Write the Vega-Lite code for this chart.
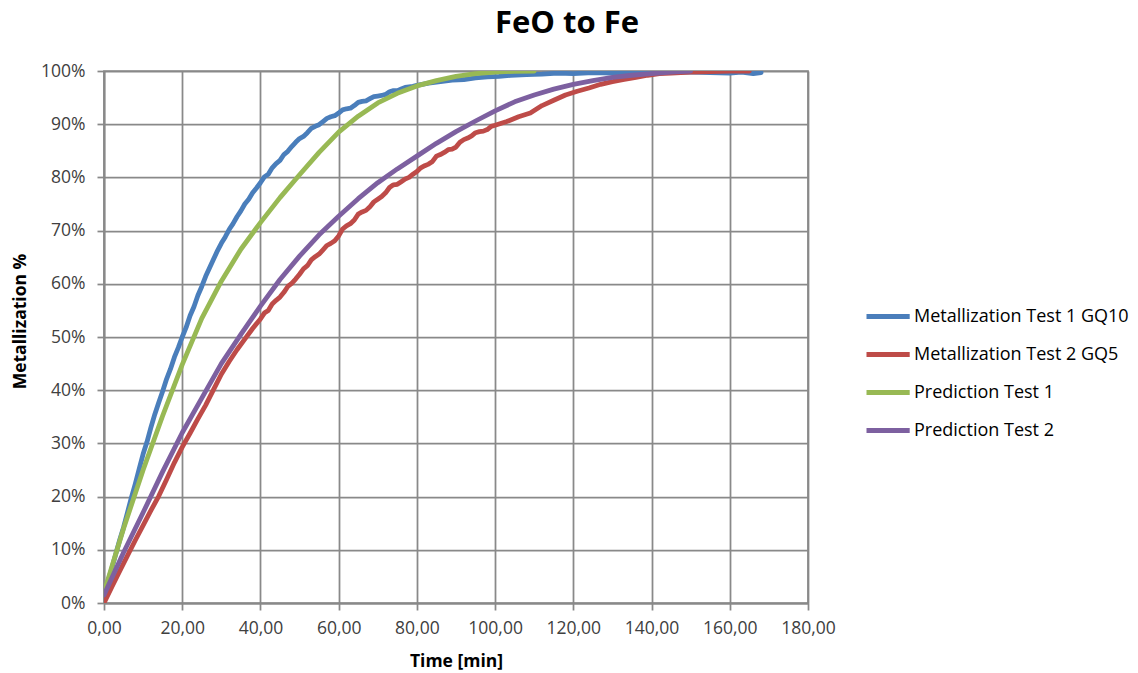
{
  "$schema": "https://vega.github.io/schema/vega-lite/v6.json",
  "autosize": "none",
  "width": 704,
  "height": 532,
  "padding": {"left": 104, "top": 71, "right": 330, "bottom": 70},
  "background": "white",
  "title": {
    "text": "FeO to Fe",
    "font": "Open Sans",
    "fontSize": 31,
    "fontWeight": "bold",
    "color": "#000000",
    "anchor": "middle",
    "frame": "group",
    "dx": 111,
    "offset": 22
  },
  "config": {
    "view": {"stroke": "#898989", "strokeWidth": 1.75},
    "font": "Open Sans"
  },
  "datasets": {
    "series": [
      {"s": "Metallization Test 1 GQ10", "t": 0, "v": 0.012},
      {"s": "Metallization Test 1 GQ10", "t": 1, "v": 0.04},
      {"s": "Metallization Test 1 GQ10", "t": 2, "v": 0.065},
      {"s": "Metallization Test 1 GQ10", "t": 3, "v": 0.092},
      {"s": "Metallization Test 1 GQ10", "t": 4, "v": 0.118},
      {"s": "Metallization Test 1 GQ10", "t": 5, "v": 0.142},
      {"s": "Metallization Test 1 GQ10", "t": 6, "v": 0.17},
      {"s": "Metallization Test 1 GQ10", "t": 7, "v": 0.198},
      {"s": "Metallization Test 1 GQ10", "t": 8, "v": 0.224},
      {"s": "Metallization Test 1 GQ10", "t": 9, "v": 0.252},
      {"s": "Metallization Test 1 GQ10", "t": 10, "v": 0.28},
      {"s": "Metallization Test 1 GQ10", "t": 11, "v": 0.303},
      {"s": "Metallization Test 1 GQ10", "t": 12, "v": 0.33},
      {"s": "Metallization Test 1 GQ10", "t": 13, "v": 0.355},
      {"s": "Metallization Test 1 GQ10", "t": 14, "v": 0.377},
      {"s": "Metallization Test 1 GQ10", "t": 15, "v": 0.398},
      {"s": "Metallization Test 1 GQ10", "t": 16, "v": 0.421},
      {"s": "Metallization Test 1 GQ10", "t": 17, "v": 0.44},
      {"s": "Metallization Test 1 GQ10", "t": 18, "v": 0.462},
      {"s": "Metallization Test 1 GQ10", "t": 19, "v": 0.48},
      {"s": "Metallization Test 1 GQ10", "t": 20, "v": 0.5},
      {"s": "Metallization Test 1 GQ10", "t": 21, "v": 0.518},
      {"s": "Metallization Test 1 GQ10", "t": 22, "v": 0.54},
      {"s": "Metallization Test 1 GQ10", "t": 23, "v": 0.557},
      {"s": "Metallization Test 1 GQ10", "t": 24, "v": 0.578},
      {"s": "Metallization Test 1 GQ10", "t": 25, "v": 0.595},
      {"s": "Metallization Test 1 GQ10", "t": 26, "v": 0.614},
      {"s": "Metallization Test 1 GQ10", "t": 27, "v": 0.63},
      {"s": "Metallization Test 1 GQ10", "t": 28, "v": 0.646},
      {"s": "Metallization Test 1 GQ10", "t": 29, "v": 0.662},
      {"s": "Metallization Test 1 GQ10", "t": 30, "v": 0.676},
      {"s": "Metallization Test 1 GQ10", "t": 31, "v": 0.688},
      {"s": "Metallization Test 1 GQ10", "t": 32, "v": 0.702},
      {"s": "Metallization Test 1 GQ10", "t": 33, "v": 0.713},
      {"s": "Metallization Test 1 GQ10", "t": 34, "v": 0.726},
      {"s": "Metallization Test 1 GQ10", "t": 35, "v": 0.737},
      {"s": "Metallization Test 1 GQ10", "t": 36, "v": 0.75},
      {"s": "Metallization Test 1 GQ10", "t": 37, "v": 0.759},
      {"s": "Metallization Test 1 GQ10", "t": 38, "v": 0.771},
      {"s": "Metallization Test 1 GQ10", "t": 39, "v": 0.78},
      {"s": "Metallization Test 1 GQ10", "t": 40, "v": 0.79},
      {"s": "Metallization Test 1 GQ10", "t": 41, "v": 0.801},
      {"s": "Metallization Test 1 GQ10", "t": 42, "v": 0.806},
      {"s": "Metallization Test 1 GQ10", "t": 43, "v": 0.818},
      {"s": "Metallization Test 1 GQ10", "t": 44, "v": 0.826},
      {"s": "Metallization Test 1 GQ10", "t": 45, "v": 0.832},
      {"s": "Metallization Test 1 GQ10", "t": 46, "v": 0.843},
      {"s": "Metallization Test 1 GQ10", "t": 47, "v": 0.849},
      {"s": "Metallization Test 1 GQ10", "t": 48, "v": 0.858},
      {"s": "Metallization Test 1 GQ10", "t": 49, "v": 0.866},
      {"s": "Metallization Test 1 GQ10", "t": 50, "v": 0.873},
      {"s": "Metallization Test 1 GQ10", "t": 51, "v": 0.877},
      {"s": "Metallization Test 1 GQ10", "t": 52, "v": 0.884},
      {"s": "Metallization Test 1 GQ10", "t": 53, "v": 0.892},
      {"s": "Metallization Test 1 GQ10", "t": 54, "v": 0.896},
      {"s": "Metallization Test 1 GQ10", "t": 55, "v": 0.899},
      {"s": "Metallization Test 1 GQ10", "t": 56, "v": 0.905},
      {"s": "Metallization Test 1 GQ10", "t": 57, "v": 0.911},
      {"s": "Metallization Test 1 GQ10", "t": 58, "v": 0.914},
      {"s": "Metallization Test 1 GQ10", "t": 59, "v": 0.916},
      {"s": "Metallization Test 1 GQ10", "t": 60, "v": 0.921},
      {"s": "Metallization Test 1 GQ10", "t": 61, "v": 0.927},
      {"s": "Metallization Test 1 GQ10", "t": 62, "v": 0.929},
      {"s": "Metallization Test 1 GQ10", "t": 63, "v": 0.93},
      {"s": "Metallization Test 1 GQ10", "t": 64, "v": 0.935},
      {"s": "Metallization Test 1 GQ10", "t": 65, "v": 0.941},
      {"s": "Metallization Test 1 GQ10", "t": 66, "v": 0.943},
      {"s": "Metallization Test 1 GQ10", "t": 67, "v": 0.944},
      {"s": "Metallization Test 1 GQ10", "t": 68, "v": 0.948},
      {"s": "Metallization Test 1 GQ10", "t": 69, "v": 0.952},
      {"s": "Metallization Test 1 GQ10", "t": 70, "v": 0.953},
      {"s": "Metallization Test 1 GQ10", "t": 71, "v": 0.954},
      {"s": "Metallization Test 1 GQ10", "t": 72, "v": 0.956},
      {"s": "Metallization Test 1 GQ10", "t": 73, "v": 0.961},
      {"s": "Metallization Test 1 GQ10", "t": 74, "v": 0.963},
      {"s": "Metallization Test 1 GQ10", "t": 75, "v": 0.963},
      {"s": "Metallization Test 1 GQ10", "t": 76, "v": 0.966},
      {"s": "Metallization Test 1 GQ10", "t": 77, "v": 0.969},
      {"s": "Metallization Test 1 GQ10", "t": 78, "v": 0.97},
      {"s": "Metallization Test 1 GQ10", "t": 79, "v": 0.971},
      {"s": "Metallization Test 1 GQ10", "t": 80, "v": 0.973},
      {"s": "Metallization Test 1 GQ10", "t": 83, "v": 0.977},
      {"s": "Metallization Test 1 GQ10", "t": 86, "v": 0.98},
      {"s": "Metallization Test 1 GQ10", "t": 89, "v": 0.983},
      {"s": "Metallization Test 1 GQ10", "t": 92, "v": 0.984},
      {"s": "Metallization Test 1 GQ10", "t": 95, "v": 0.987},
      {"s": "Metallization Test 1 GQ10", "t": 98, "v": 0.989},
      {"s": "Metallization Test 1 GQ10", "t": 101, "v": 0.99},
      {"s": "Metallization Test 1 GQ10", "t": 104, "v": 0.992},
      {"s": "Metallization Test 1 GQ10", "t": 108, "v": 0.993},
      {"s": "Metallization Test 1 GQ10", "t": 112, "v": 0.994},
      {"s": "Metallization Test 1 GQ10", "t": 116, "v": 0.996},
      {"s": "Metallization Test 1 GQ10", "t": 120, "v": 0.995},
      {"s": "Metallization Test 1 GQ10", "t": 125, "v": 0.997},
      {"s": "Metallization Test 1 GQ10", "t": 130, "v": 0.996},
      {"s": "Metallization Test 1 GQ10", "t": 135, "v": 0.998},
      {"s": "Metallization Test 1 GQ10", "t": 140, "v": 0.997},
      {"s": "Metallization Test 1 GQ10", "t": 145, "v": 0.998},
      {"s": "Metallization Test 1 GQ10", "t": 150, "v": 0.998},
      {"s": "Metallization Test 1 GQ10", "t": 155, "v": 0.997},
      {"s": "Metallization Test 1 GQ10", "t": 160, "v": 0.996},
      {"s": "Metallization Test 1 GQ10", "t": 163, "v": 0.998},
      {"s": "Metallization Test 1 GQ10", "t": 166, "v": 0.995},
      {"s": "Metallization Test 1 GQ10", "t": 168, "v": 0.997},

      {"s": "Metallization Test 2 GQ5", "t": 0, "v": 0.0},
      {"s": "Metallization Test 2 GQ5", "t": 2, "v": 0.03},
      {"s": "Metallization Test 2 GQ5", "t": 4, "v": 0.06},
      {"s": "Metallization Test 2 GQ5", "t": 6, "v": 0.089},
      {"s": "Metallization Test 2 GQ5", "t": 8, "v": 0.118},
      {"s": "Metallization Test 2 GQ5", "t": 10, "v": 0.146},
      {"s": "Metallization Test 2 GQ5", "t": 12, "v": 0.174},
      {"s": "Metallization Test 2 GQ5", "t": 14, "v": 0.201},
      {"s": "Metallization Test 2 GQ5", "t": 16, "v": 0.232},
      {"s": "Metallization Test 2 GQ5", "t": 18, "v": 0.264},
      {"s": "Metallization Test 2 GQ5", "t": 20, "v": 0.293},
      {"s": "Metallization Test 2 GQ5", "t": 22, "v": 0.319},
      {"s": "Metallization Test 2 GQ5", "t": 24, "v": 0.346},
      {"s": "Metallization Test 2 GQ5", "t": 26, "v": 0.372},
      {"s": "Metallization Test 2 GQ5", "t": 28, "v": 0.401},
      {"s": "Metallization Test 2 GQ5", "t": 30, "v": 0.43},
      {"s": "Metallization Test 2 GQ5", "t": 32, "v": 0.454},
      {"s": "Metallization Test 2 GQ5", "t": 34, "v": 0.476},
      {"s": "Metallization Test 2 GQ5", "t": 36, "v": 0.496},
      {"s": "Metallization Test 2 GQ5", "t": 38, "v": 0.516},
      {"s": "Metallization Test 2 GQ5", "t": 40, "v": 0.534},
      {"s": "Metallization Test 2 GQ5", "t": 41, "v": 0.545},
      {"s": "Metallization Test 2 GQ5", "t": 42, "v": 0.55},
      {"s": "Metallization Test 2 GQ5", "t": 43, "v": 0.562},
      {"s": "Metallization Test 2 GQ5", "t": 44, "v": 0.569},
      {"s": "Metallization Test 2 GQ5", "t": 45, "v": 0.575},
      {"s": "Metallization Test 2 GQ5", "t": 46, "v": 0.584},
      {"s": "Metallization Test 2 GQ5", "t": 47, "v": 0.595},
      {"s": "Metallization Test 2 GQ5", "t": 48, "v": 0.601},
      {"s": "Metallization Test 2 GQ5", "t": 49, "v": 0.609},
      {"s": "Metallization Test 2 GQ5", "t": 50, "v": 0.618},
      {"s": "Metallization Test 2 GQ5", "t": 51, "v": 0.628},
      {"s": "Metallization Test 2 GQ5", "t": 52, "v": 0.634},
      {"s": "Metallization Test 2 GQ5", "t": 53, "v": 0.645},
      {"s": "Metallization Test 2 GQ5", "t": 54, "v": 0.651},
      {"s": "Metallization Test 2 GQ5", "t": 55, "v": 0.656},
      {"s": "Metallization Test 2 GQ5", "t": 56, "v": 0.664},
      {"s": "Metallization Test 2 GQ5", "t": 57, "v": 0.672},
      {"s": "Metallization Test 2 GQ5", "t": 58, "v": 0.676},
      {"s": "Metallization Test 2 GQ5", "t": 59, "v": 0.681},
      {"s": "Metallization Test 2 GQ5", "t": 60, "v": 0.69},
      {"s": "Metallization Test 2 GQ5", "t": 61, "v": 0.703},
      {"s": "Metallization Test 2 GQ5", "t": 62, "v": 0.709},
      {"s": "Metallization Test 2 GQ5", "t": 63, "v": 0.713},
      {"s": "Metallization Test 2 GQ5", "t": 64, "v": 0.72},
      {"s": "Metallization Test 2 GQ5", "t": 65, "v": 0.731},
      {"s": "Metallization Test 2 GQ5", "t": 66, "v": 0.735},
      {"s": "Metallization Test 2 GQ5", "t": 67, "v": 0.738},
      {"s": "Metallization Test 2 GQ5", "t": 68, "v": 0.745},
      {"s": "Metallization Test 2 GQ5", "t": 69, "v": 0.754},
      {"s": "Metallization Test 2 GQ5", "t": 70, "v": 0.759},
      {"s": "Metallization Test 2 GQ5", "t": 71, "v": 0.764},
      {"s": "Metallization Test 2 GQ5", "t": 72, "v": 0.771},
      {"s": "Metallization Test 2 GQ5", "t": 73, "v": 0.781},
      {"s": "Metallization Test 2 GQ5", "t": 74, "v": 0.786},
      {"s": "Metallization Test 2 GQ5", "t": 75, "v": 0.787},
      {"s": "Metallization Test 2 GQ5", "t": 76, "v": 0.792},
      {"s": "Metallization Test 2 GQ5", "t": 77, "v": 0.797},
      {"s": "Metallization Test 2 GQ5", "t": 78, "v": 0.8},
      {"s": "Metallization Test 2 GQ5", "t": 79, "v": 0.806},
      {"s": "Metallization Test 2 GQ5", "t": 80, "v": 0.811},
      {"s": "Metallization Test 2 GQ5", "t": 81, "v": 0.818},
      {"s": "Metallization Test 2 GQ5", "t": 82, "v": 0.822},
      {"s": "Metallization Test 2 GQ5", "t": 83, "v": 0.825},
      {"s": "Metallization Test 2 GQ5", "t": 84, "v": 0.83},
      {"s": "Metallization Test 2 GQ5", "t": 85, "v": 0.84},
      {"s": "Metallization Test 2 GQ5", "t": 86, "v": 0.843},
      {"s": "Metallization Test 2 GQ5", "t": 87, "v": 0.847},
      {"s": "Metallization Test 2 GQ5", "t": 88, "v": 0.852},
      {"s": "Metallization Test 2 GQ5", "t": 89, "v": 0.853},
      {"s": "Metallization Test 2 GQ5", "t": 90, "v": 0.857},
      {"s": "Metallization Test 2 GQ5", "t": 91, "v": 0.866},
      {"s": "Metallization Test 2 GQ5", "t": 92, "v": 0.871},
      {"s": "Metallization Test 2 GQ5", "t": 93, "v": 0.874},
      {"s": "Metallization Test 2 GQ5", "t": 94, "v": 0.878},
      {"s": "Metallization Test 2 GQ5", "t": 95, "v": 0.884},
      {"s": "Metallization Test 2 GQ5", "t": 96, "v": 0.886},
      {"s": "Metallization Test 2 GQ5", "t": 97, "v": 0.887},
      {"s": "Metallization Test 2 GQ5", "t": 98, "v": 0.89},
      {"s": "Metallization Test 2 GQ5", "t": 99, "v": 0.896},
      {"s": "Metallization Test 2 GQ5", "t": 100, "v": 0.898},
      {"s": "Metallization Test 2 GQ5", "t": 103, "v": 0.905},
      {"s": "Metallization Test 2 GQ5", "t": 106, "v": 0.914},
      {"s": "Metallization Test 2 GQ5", "t": 109, "v": 0.921},
      {"s": "Metallization Test 2 GQ5", "t": 112, "v": 0.935},
      {"s": "Metallization Test 2 GQ5", "t": 115, "v": 0.945},
      {"s": "Metallization Test 2 GQ5", "t": 118, "v": 0.955},
      {"s": "Metallization Test 2 GQ5", "t": 121, "v": 0.962},
      {"s": "Metallization Test 2 GQ5", "t": 124, "v": 0.968},
      {"s": "Metallization Test 2 GQ5", "t": 127, "v": 0.975},
      {"s": "Metallization Test 2 GQ5", "t": 130, "v": 0.98},
      {"s": "Metallization Test 2 GQ5", "t": 133, "v": 0.984},
      {"s": "Metallization Test 2 GQ5", "t": 136, "v": 0.988},
      {"s": "Metallization Test 2 GQ5", "t": 139, "v": 0.992},
      {"s": "Metallization Test 2 GQ5", "t": 142, "v": 0.995},
      {"s": "Metallization Test 2 GQ5", "t": 145, "v": 0.996},
      {"s": "Metallization Test 2 GQ5", "t": 150, "v": 0.998},
      {"s": "Metallization Test 2 GQ5", "t": 155, "v": 0.999},
      {"s": "Metallization Test 2 GQ5", "t": 160, "v": 1.0},
      {"s": "Metallization Test 2 GQ5", "t": 165, "v": 1.0},

      {"s": "Prediction Test 1", "t": 0, "v": 0.02},
      {"s": "Prediction Test 1", "t": 5, "v": 0.14},
      {"s": "Prediction Test 1", "t": 10, "v": 0.25},
      {"s": "Prediction Test 1", "t": 15, "v": 0.352},
      {"s": "Prediction Test 1", "t": 20, "v": 0.448},
      {"s": "Prediction Test 1", "t": 25, "v": 0.535},
      {"s": "Prediction Test 1", "t": 30, "v": 0.605},
      {"s": "Prediction Test 1", "t": 35, "v": 0.665},
      {"s": "Prediction Test 1", "t": 40, "v": 0.715},
      {"s": "Prediction Test 1", "t": 45, "v": 0.762},
      {"s": "Prediction Test 1", "t": 50, "v": 0.805},
      {"s": "Prediction Test 1", "t": 55, "v": 0.847},
      {"s": "Prediction Test 1", "t": 60, "v": 0.885},
      {"s": "Prediction Test 1", "t": 65, "v": 0.915},
      {"s": "Prediction Test 1", "t": 70, "v": 0.94},
      {"s": "Prediction Test 1", "t": 75, "v": 0.958},
      {"s": "Prediction Test 1", "t": 80, "v": 0.972},
      {"s": "Prediction Test 1", "t": 85, "v": 0.982},
      {"s": "Prediction Test 1", "t": 90, "v": 0.99},
      {"s": "Prediction Test 1", "t": 95, "v": 0.995},
      {"s": "Prediction Test 1", "t": 100, "v": 0.998},
      {"s": "Prediction Test 1", "t": 105, "v": 0.9995},
      {"s": "Prediction Test 1", "t": 110, "v": 1.0},

      {"s": "Prediction Test 2", "t": 0, "v": 0.015},
      {"s": "Prediction Test 2", "t": 5, "v": 0.095},
      {"s": "Prediction Test 2", "t": 10, "v": 0.17},
      {"s": "Prediction Test 2", "t": 15, "v": 0.247},
      {"s": "Prediction Test 2", "t": 20, "v": 0.32},
      {"s": "Prediction Test 2", "t": 25, "v": 0.385},
      {"s": "Prediction Test 2", "t": 30, "v": 0.45},
      {"s": "Prediction Test 2", "t": 35, "v": 0.505},
      {"s": "Prediction Test 2", "t": 40, "v": 0.558},
      {"s": "Prediction Test 2", "t": 45, "v": 0.608},
      {"s": "Prediction Test 2", "t": 50, "v": 0.652},
      {"s": "Prediction Test 2", "t": 55, "v": 0.692},
      {"s": "Prediction Test 2", "t": 60, "v": 0.727},
      {"s": "Prediction Test 2", "t": 65, "v": 0.76},
      {"s": "Prediction Test 2", "t": 70, "v": 0.79},
      {"s": "Prediction Test 2", "t": 75, "v": 0.816},
      {"s": "Prediction Test 2", "t": 80, "v": 0.84},
      {"s": "Prediction Test 2", "t": 85, "v": 0.864},
      {"s": "Prediction Test 2", "t": 90, "v": 0.886},
      {"s": "Prediction Test 2", "t": 95, "v": 0.906},
      {"s": "Prediction Test 2", "t": 100, "v": 0.925},
      {"s": "Prediction Test 2", "t": 105, "v": 0.942},
      {"s": "Prediction Test 2", "t": 110, "v": 0.955},
      {"s": "Prediction Test 2", "t": 115, "v": 0.966},
      {"s": "Prediction Test 2", "t": 120, "v": 0.975},
      {"s": "Prediction Test 2", "t": 125, "v": 0.982},
      {"s": "Prediction Test 2", "t": 130, "v": 0.988},
      {"s": "Prediction Test 2", "t": 135, "v": 0.992},
      {"s": "Prediction Test 2", "t": 140, "v": 0.995},
      {"s": "Prediction Test 2", "t": 145, "v": 0.998},
      {"s": "Prediction Test 2", "t": 150, "v": 1.0}
    ]
  },
  "data": {"name": "series"},
  "mark": {"type": "line", "strokeCap": "round", "strokeJoin": "round", "clip": true},
  "encoding": {
    "x": {
      "field": "t",
      "type": "quantitative",
      "scale": {"domain": [0, 180], "nice": false, "zero": true},
      "axis": {
        "title": "Time [min]",
        "values": [0, 20, 40, 60, 80, 100, 120, 140, 160, 180],
        "labelExpr": "replace(format(datum.value, '.2f'), '.', ',')",
        "grid": true,
        "gridColor": "#898989",
        "gridWidth": 1.75,
        "gridOpacity": 1,
        "domainColor": "#898989",
        "domainWidth": 1.75,
        "tickColor": "#898989",
        "tickWidth": 1.75,
        "tickSize": 7,
        "labelPadding": 9,
        "labelFont": "Open Sans",
        "labelFontSize": 17.5,
        "labelColor": "#404040",
        "labelFlush": false,
        "titleFont": "Open Sans",
        "titleFontSize": 17.5,
        "titleFontWeight": "bold",
        "titleColor": "#000000",
        "titleBaseline": "middle",
        "titleY": 58
      }
    },
    "y": {
      "field": "v",
      "type": "quantitative",
      "scale": {"domain": [0, 1], "nice": false},
      "axis": {
        "title": "Metallization %",
        "values": [0, 0.1, 0.2, 0.3, 0.4, 0.5, 0.6, 0.7, 0.8, 0.9, 1],
        "format": ".0%",
        "grid": true,
        "gridColor": "#898989",
        "gridWidth": 1.75,
        "gridOpacity": 1,
        "domainColor": "#898989",
        "domainWidth": 1.75,
        "tickColor": "#898989",
        "tickWidth": 1.75,
        "tickSize": 7,
        "labelPadding": 12,
        "labelFont": "Open Sans",
        "labelFontSize": 17.5,
        "labelColor": "#404040",
        "labelFlush": false,
        "titleFont": "Open Sans",
        "titleFontSize": 17.5,
        "titleFontWeight": "bold",
        "titleColor": "#000000",
        "titleX": -84,
        "titleY": 250,
        "titleAngle": -90,
        "titleBaseline": "middle",
        "titleAlign": "center"
      }
    },
    "color": {
      "field": "s",
      "type": "nominal",
      "sort": ["Metallization Test 1 GQ10", "Metallization Test 2 GQ5", "Prediction Test 1", "Prediction Test 2"],
      "scale": {
        "domain": ["Metallization Test 1 GQ10", "Metallization Test 2 GQ5", "Prediction Test 1", "Prediction Test 2"],
        "range": ["#4A7EBB", "#BE4B48", "#98B954", "#7D60A0"]
      },
      "legend": {
        "title": null,
        "orient": "none",
        "legendX": 760,
        "legendY": 235,
        "padding": 0,
        "symbolType": "M-1,0H4.4",
        "symbolSize": 256,
        "symbolStrokeWidth": 4.5,
        "labelOffset": 29,
        "labelFont": "Open Sans",
        "labelFontSize": 18,
        "labelColor": "#000000",
        "labelLimit": 400,
        "rowPadding": 17
      }
    },
    "strokeWidth": {
      "field": "s",
      "type": "nominal",
      "scale": {
        "domain": ["Metallization Test 1 GQ10", "Metallization Test 2 GQ5", "Prediction Test 1", "Prediction Test 2"],
        "range": [4.8, 4.8, 4, 4]
      },
      "legend": null
    }
  }
}
